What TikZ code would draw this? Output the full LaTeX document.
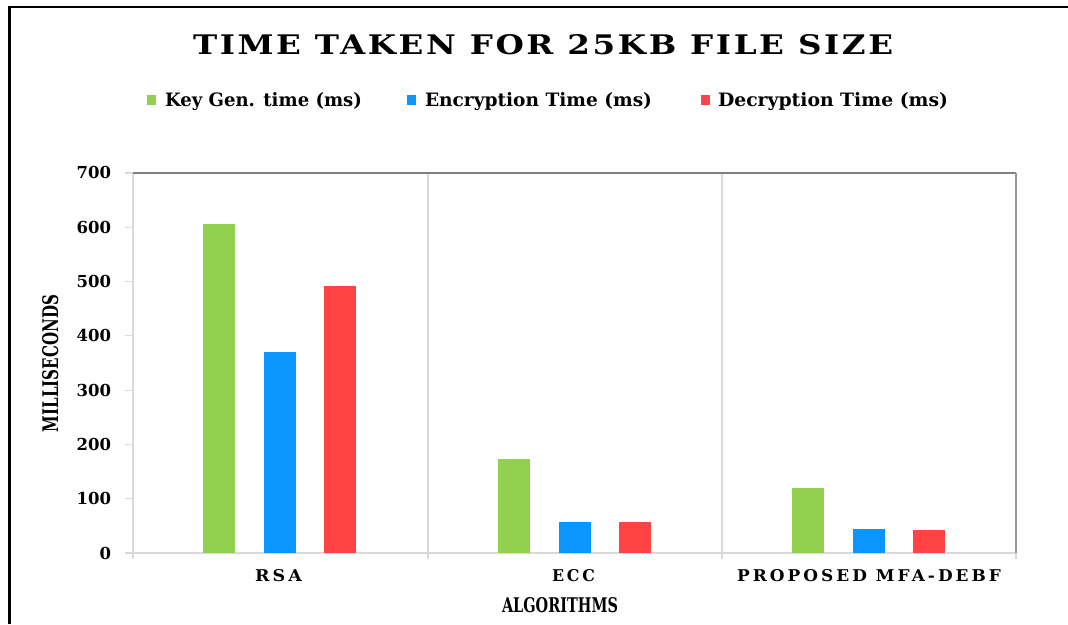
\documentclass[tikz,border=0pt]{standalone}
\usepackage{graphicx}
\usepackage{fontspec}
\setmainfont{DejaVu Serif}
\newfontfamily\spacedfont[LetterSpace=18]{DejaVu Serif}
\newfontfamily\widefont[LetterSpace=8]{DejaVu Serif}
% text scaled to a given width and ascent
\newcommand\fitbox[3]{\resizebox{#1}{#2}{#3}}

\definecolor{keygreen}{HTML}{92D050}
\definecolor{encblue}{HTML}{0B95FF}
\definecolor{decred}{HTML}{FF4343}
\definecolor{gridgray}{HTML}{D9D9D9}
\definecolor{framegray}{HTML}{808080}

\begin{document}
\begin{tikzpicture}[x=1pt,y=-1pt,
  lbl/.style={inner sep=0pt,outer sep=0pt,font=\bfseries},
  grid/.style={draw=gridgray,line width=1.2pt},
  tick/.style={lbl,anchor=base east,font=\fontsize{16.5}{18}\selectfont\bfseries}]

\useasboundingbox (0,0) rectangle (1068,624);
\fill[white] (0,0) rectangle (1068,624);

% outer frame
\draw[black,line width=2.5pt] (9.5,624) -- (9.5,7) -- (1068,7);

% title
\node[lbl,anchor=base west] (title) at (193,54)
  {\fitbox{700pt}{20pt}{\widefont\bfseries TIME TAKEN FOR 25KB FILE SIZE}};

% legend
\fill[keygreen] (147,95) rectangle (156,105);
\node[lbl,anchor=base west] (lkey) at (165,106) {\fitbox{197pt}{14pt}{\bfseries Key Gen. time (ms)}};
\fill[encblue] (407,95) rectangle (416,105);
\node[lbl,anchor=base west] (lenc) at (425,106) {\fitbox{227pt}{14pt}{\bfseries Encryption Time (ms)}};
\fill[decred] (701,95) rectangle (710,105);
\node[lbl,anchor=base west] (ldec) at (718,106) {\fitbox{230pt}{14pt}{\bfseries Decryption Time (ms)}};

% plot frame and grid
\draw[grid] (133,173) -- (133,559);
\draw[grid] (428,173) -- (428,559);
\draw[grid] (722,173) -- (722,559);
\draw[grid] (1016,553) -- (1016,559);
\draw[grid] (125,553) -- (1016,553);
\draw[framegray,line width=1.5pt] (133,173) -- (1016,173);
\draw[draw=framegray!80,line width=1.5pt] (1016,173) -- (1016,553);

% y axis ticks and labels
\foreach \v in {0,100,...,700}{
  \pgfmathsetmacro\yy{553-\v*0.542857}
  \draw[grid] (125,\yy) -- (133,\yy);
  \node[tick] at (111,\yy+6) {\v};
}

% bars: value scale 0.542857 px per ms
\foreach \c/\k/\e/\d in {280.5/606/370/492, 575/173/57/57, 869/120/44/42}{
  \fill[keygreen] (\c-77.5,553) rectangle (\c-45.5,{553-\k*0.542857});
  \fill[encblue]  (\c-16.5,553) rectangle (\c+15.5,{553-\e*0.542857});
  \fill[decred]   (\c+43.5,553) rectangle (\c+75.5,{553-\d*0.542857});
}

% category labels
\node[lbl,anchor=base west] (crsa) at (255,581) {\fitbox{47pt}{12pt}{\spacedfont\bfseries RSA}};
\node[lbl,anchor=base west] (cecc) at (552,581) {\fitbox{43pt}{12pt}{\spacedfont\bfseries ECC}};
\node[lbl,anchor=base west] (cmfa) at (737,581) {\fitbox{264pt}{12pt}{\spacedfont\bfseries PROPOSED MFA-DEBF}};

% axis titles
\node[lbl,anchor=base west] (xtitle) at (502,612) {\fitbox{116pt}{15pt}{\bfseries ALGORITHMS}};
\node[lbl,anchor=base west,rotate=90] (ytitle) at (58,432) {\fitbox{137pt}{16pt}{\bfseries MILLISECONDS}};
\end{tikzpicture}
\end{document}
